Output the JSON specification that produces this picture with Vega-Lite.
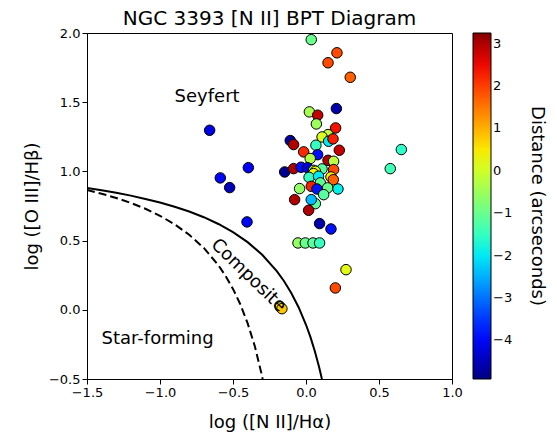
{
  "$schema": "https://vega.github.io/schema/vega-lite/v6.json",
  "width": 365,
  "height": 346,
  "autosize": "none",
  "padding": {"left": 87, "top": 33, "right": 105, "bottom": 65},
  "background": "white",
  "title": {"text": "NGC 3393 [N II] BPT Diagram", "fontSize": 20, "font": "DejaVu Sans", "fontWeight": "normal", "color": "black", "frame": "group", "baseline": "alphabetic", "offset": -18},
  "config": {
    "view": {"stroke": "black", "strokeWidth": 1},
    "font": "DejaVu Sans",
    "axis": {"labelFont": "DejaVu Sans", "labelFontSize": 13, "labelColor": "black", "labelFlush": false, "tickColor": "black", "tickSize": 5, "labelPadding": 2, "domainColor": "black", "grid": false, "titleFont": "DejaVu Sans", "titleFontSize": 18, "titleFontWeight": "normal", "titleColor": "black"},
    "legend": {"gradientLength": 346, "gradientThickness": 18, "gradientStrokeColor": "black", "gradientStrokeWidth": 1, "labelFont": "DejaVu Sans", "labelFontSize": 13, "labelColor": "black", "labelOffset": 8, "titleFont": "DejaVu Sans", "titleFontSize": 18, "titleFontWeight": "normal", "titleColor": "black", "titleLimit": 500, "padding": 0}
  },
  "encoding": {
    "x": {"field": "x", "type": "quantitative", "scale": {"domain": [-1.5, 1.0], "nice": false, "zero": false}, "axis": {"values": [-1.5, -1.0, -0.5, 0.0, 0.5, 1.0], "format": ".1f", "title": "log ([N II]/Hα)", "titlePadding": 14}},
    "y": {"field": "y", "type": "quantitative", "scale": {"domain": [-0.5, 2.0], "nice": false, "zero": false}, "axis": {"values": [-0.5, 0.0, 0.5, 1.0, 1.5, 2.0], "format": ".1f", "title": "log ([O III]/Hβ)", "titlePadding": 7}}
  },
  "layer": [
    {
      "data": {"values": [
        {"x": -1.5, "y": 0.880}, {"x": -1.4, "y": 0.864}, {"x": -1.3, "y": 0.845}, {"x": -1.2, "y": 0.825}, {"x": -1.1, "y": 0.801}, {"x": -1.0, "y": 0.775}, {"x": -0.9, "y": 0.745}, {"x": -0.8, "y": 0.710}, {"x": -0.7, "y": 0.669}, {"x": -0.6, "y": 0.620}, {"x": -0.5, "y": 0.561}, {"x": -0.4, "y": 0.489}, {"x": -0.3, "y": 0.398}, {"x": -0.2, "y": 0.280}, {"x": -0.15, "y": 0.206}, {"x": -0.1, "y": 0.120}, {"x": -0.05, "y": 0.017}, {"x": 0.0, "y": -0.108}, {"x": 0.03, "y": -0.196}, {"x": 0.06, "y": -0.298}, {"x": 0.09, "y": -0.415}, {"x": 0.109, "y": -0.5}
      ]},
      "mark": {"type": "line", "color": "black", "strokeWidth": 2, "clip": true},
      "encoding": {}
    },
    {
      "data": {"values": [
        {"x": -1.5, "y": 0.866}, {"x": -1.4, "y": 0.839}, {"x": -1.3, "y": 0.808}, {"x": -1.2, "y": 0.772}, {"x": -1.1, "y": 0.730}, {"x": -1.0, "y": 0.679}, {"x": -0.9, "y": 0.618}, {"x": -0.8, "y": 0.542}, {"x": -0.7, "y": 0.447}, {"x": -0.6, "y": 0.322}, {"x": -0.55, "y": 0.243}, {"x": -0.5, "y": 0.151}, {"x": -0.45, "y": 0.040}, {"x": -0.4, "y": -0.096}, {"x": -0.35, "y": -0.265}, {"x": -0.3, "y": -0.483}, {"x": -0.297, "y": -0.5}
      ]},
      "mark": {"type": "line", "color": "black", "strokeWidth": 2, "strokeDash": [8, 4], "clip": true},
      "encoding": {}
    },
    {
      "data": {"values": [
        {"x": 0.036, "y": 1.952, "d": -1.0},
        {"x": 0.212, "y": 1.857, "d": 1.9},
        {"x": 0.151, "y": 1.785, "d": 1.9},
        {"x": 0.303, "y": 1.680, "d": 1.7},
        {"x": -0.660, "y": 1.297, "d": -4.2},
        {"x": -0.395, "y": 1.027, "d": -4.1},
        {"x": -0.587, "y": 0.953, "d": -4.0},
        {"x": -0.523, "y": 0.883, "d": -4.5},
        {"x": -0.404, "y": 0.635, "d": -4.0},
        {"x": 0.023, "y": 1.430, "d": -0.4},
        {"x": 0.080, "y": 1.406, "d": 2.9},
        {"x": 0.071, "y": 1.343, "d": -0.5},
        {"x": 0.208, "y": 1.454, "d": -4.6},
        {"x": 0.203, "y": 1.314, "d": 2.4},
        {"x": 0.151, "y": 1.266, "d": -0.2},
        {"x": 0.110, "y": 1.249, "d": 0.1},
        {"x": 0.155, "y": 1.218, "d": -2.0},
        {"x": 0.185, "y": 1.235, "d": 2.3},
        {"x": -0.108, "y": 1.223, "d": -4.7},
        {"x": -0.085, "y": 1.194, "d": 3.0},
        {"x": 0.068, "y": 1.189, "d": -1.5},
        {"x": 0.228, "y": 1.153, "d": 2.9},
        {"x": -0.016, "y": 1.141, "d": 2.2},
        {"x": 0.080, "y": 1.121, "d": -3.9},
        {"x": 0.029, "y": 1.093, "d": -0.3},
        {"x": 0.151, "y": 1.080, "d": 3.0},
        {"x": 0.189, "y": 1.073, "d": -0.2},
        {"x": -0.146, "y": 0.996, "d": -4.8},
        {"x": -0.085, "y": 1.020, "d": 3.0},
        {"x": -0.034, "y": 1.030, "d": -3.9},
        {"x": 0.010, "y": 1.027, "d": -4.3},
        {"x": 0.110, "y": 1.018, "d": -1.2},
        {"x": 0.052, "y": 1.008, "d": -0.6},
        {"x": 0.189, "y": 1.013, "d": 1.9},
        {"x": 0.064, "y": 1.001, "d": 0.4},
        {"x": 0.052, "y": 0.984, "d": 0.3},
        {"x": 0.021, "y": 0.957, "d": -1.5},
        {"x": 0.086, "y": 0.965, "d": -2.0},
        {"x": 0.171, "y": 0.960, "d": 0.5},
        {"x": 0.187, "y": 0.940, "d": 1.7},
        {"x": 0.098, "y": 0.917, "d": -1.1},
        {"x": -0.044, "y": 0.876, "d": -0.6},
        {"x": 0.036, "y": 0.892, "d": 2.3},
        {"x": 0.075, "y": 0.873, "d": -3.8},
        {"x": 0.148, "y": 0.881, "d": -1.0},
        {"x": 0.219, "y": 0.873, "d": -1.9},
        {"x": 0.121, "y": 0.832, "d": -1.2},
        {"x": -0.078, "y": 0.796, "d": 3.0},
        {"x": 0.064, "y": 0.767, "d": -1.2},
        {"x": 0.036, "y": 0.796, "d": -2.4},
        {"x": 0.018, "y": 0.719, "d": 3.0},
        {"x": 0.093, "y": 0.623, "d": -4.6},
        {"x": 0.171, "y": 0.584, "d": -3.9},
        {"x": -0.055, "y": 0.483, "d": -0.6},
        {"x": -0.005, "y": 0.483, "d": -1.0},
        {"x": 0.048, "y": 0.483, "d": -1.2},
        {"x": 0.093, "y": 0.483, "d": -1.5},
        {"x": 0.274, "y": 0.290, "d": 0.2},
        {"x": 0.201, "y": 0.158, "d": 1.9},
        {"x": -0.176, "y": 0.020, "d": 0.4},
        {"x": -0.165, "y": 0.008, "d": 0.8},
        {"x": 0.653, "y": 1.158, "d": -1.6},
        {"x": 0.577, "y": 1.020, "d": -1.4}
      ]},
      "mark": {"type": "circle", "size": 110, "stroke": "black", "strokeWidth": 1, "opacity": 1},
      "encoding": {
        "color": {
          "field": "d", "type": "quantitative",
          "scale": {"type": "linear", "domain": [-4.910, -4.502, -4.094, -3.686, -3.278, -2.870, -2.462, -2.054, -1.646, -1.238, -0.830, -0.422, -0.014, 0.394, 0.802, 1.210, 1.618, 2.026, 2.434, 2.842, 3.250],
            "range": ["#000080", "#0000b9", "#0000f3", "#001aff", "#004cff", "#0080ff", "#00b3ff", "#00e5f7", "#29ffce", "#52ffa4", "#7bff7b", "#a4ff52", "#ceff29", "#f7f500", "#ffc600", "#ff9700", "#ff6800", "#ff3900", "#f30900", "#d00000", "#800000"]},
          "legend": {"title": "Distance (arcseconds)", "values": [-4, -3, -2, -1, 0, 1, 2, 3], "orient": "none", "legendX": 386, "legendY": 0, "direction": "vertical", "format": "d", "titleOrient": "right", "titleAngle": -90, "titleAnchor": "middle", "titlePadding": 16, "titleLimit": 500}
        }
      }
    },
    {
      "data": {"values": [{"x": -0.9, "y": 1.5, "label": "Seyfert"}, {"x": -1.4, "y": -0.25, "label": "Star-forming"}]},
      "mark": {"type": "text", "align": "left", "baseline": "alphabetic", "fontSize": 18, "font": "DejaVu Sans", "color": "black"},
      "encoding": {
        "text": {"field": "label"}
      }
    },
    {
      "data": {"values": [{"x": -0.395, "y": 0.247, "label": "Composite"}]},
      "mark": {"type": "text", "align": "center", "baseline": "middle", "fontSize": 18, "font": "DejaVu Sans", "color": "black", "angle": 44},
      "encoding": {
        "text": {"field": "label"}
      }
    }
  ]
}
